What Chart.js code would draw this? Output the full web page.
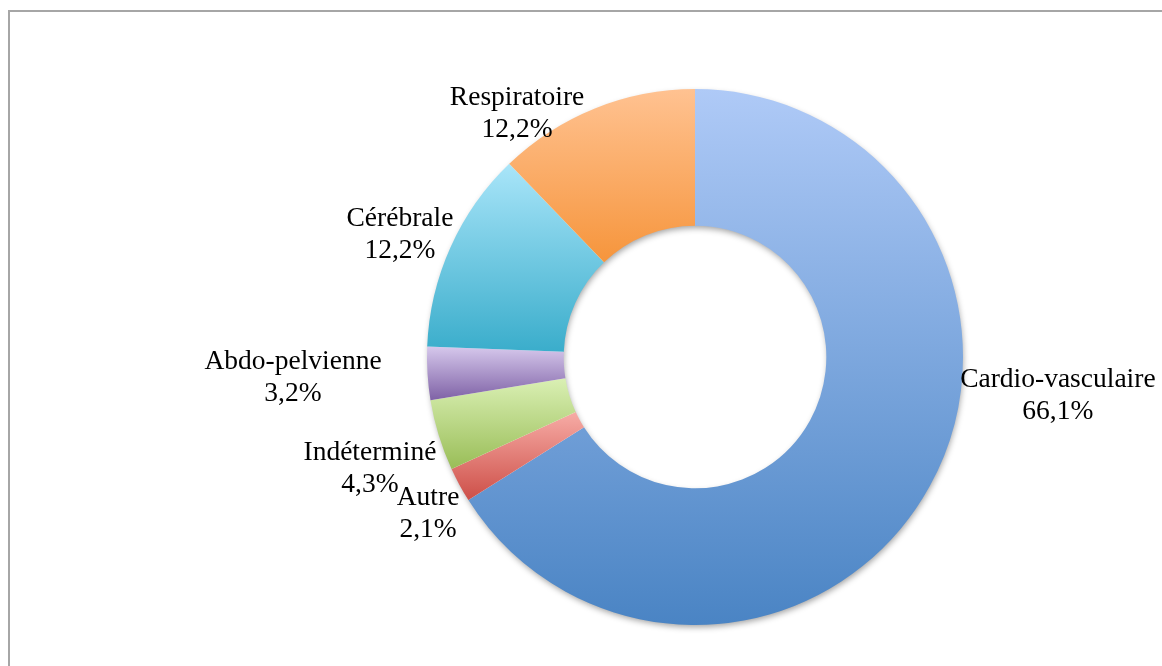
<!DOCTYPE html>
<html>
<head>
<meta charset="utf-8">
<script src="https://cdn.jsdelivr.net/npm/chart.js@4"></script>
<style>
  html, body { margin: 0; padding: 0; background: #fff; }
  #wrap { position: relative; width: 1162px; height: 666px; }
  #frame { position: absolute; left: 8px; top: 10px; right: 0; bottom: 0;
           border-top: 2px solid #a6a6a6; border-left: 2px solid #a6a6a6; pointer-events: none; }
  canvas { position: absolute; left: 0; top: 0; }
</style>
</head>
<body>
<div id="wrap">
  <canvas id="c" width="1162" height="666"></canvas>
  <div id="frame"></div>
</div>
<script>
// ---- Data ----
const categories = ["Cardio-vasculaire", "Autre", "Indéterminé", "Abdo-pelvienne", "Cérébrale", "Respiratoire"];
const percentages = [66.1, 2.1, 4.3, 3.2, 12.2, 12.2];

// ---- Styles ----
const gradTop    = ["#afcaf7", "#f7aca6", "#daf0b4", "#d6c8ec", "#a9e5f9", "#ffc291"];
const gradBottom = ["#4a84c4", "#cd4f48", "#99bd57", "#7f62a6", "#3aadcb", "#f6953c"];
// label anchor (first line baseline), in units of the outer radius, relative to centre
const labelOffsets = [[1.354, 0.112], [-0.996, 0.552], [-1.213, 0.384], [-1.5, 0.045], [-1.101, -0.489], [-0.664, -0.940]];
const labelFont = '27.5px "Liberation Serif", "Times New Roman", serif';
const lineGap = 32;

function arcBox(arc) {
  let minY = Infinity, maxY = -Infinity;
  const n = 60;
  for (let k = 0; k <= n; k++) {
    const a = arc.startAngle + (arc.endAngle - arc.startAngle) * k / n;
    for (const r of [arc.innerRadius, arc.outerRadius]) {
      const y = arc.y + r * Math.sin(a);
      if (y < minY) minY = y;
      if (y > maxY) maxY = y;
    }
  }
  return [minY, maxY];
}

const fxPlugin = {
  id: 'fx',
  beforeDatasetsDraw(chart) {
    const ctx = chart.ctx;
    const meta = chart.getDatasetMeta(0);
    if (!meta.data.length) return;
    const a0 = meta.data[0];
    // drop shadow of the ring
    ctx.save();
    ctx.shadowColor = 'rgba(0,0,0,0.38)';
    ctx.shadowBlur = 6;
    ctx.shadowOffsetX = 1;
    ctx.shadowOffsetY = 3;
    ctx.beginPath();
    ctx.arc(a0.x, a0.y, a0.outerRadius - 1, 0, Math.PI * 2);
    ctx.arc(a0.x, a0.y, a0.innerRadius + 1, Math.PI * 2, 0, true);
    ctx.fillStyle = '#ffffff';
    ctx.fill('evenodd');
    ctx.restore();
    // per-slice vertical gradients
    meta.data.forEach((arc, i) => {
      const [y0, y1] = arcBox(arc);
      const g = ctx.createLinearGradient(0, y0, 0, y1);
      g.addColorStop(0, gradTop[i]);
      g.addColorStop(1, gradBottom[i]);
      arc.options = Object.assign({}, arc.options, { backgroundColor: g });
    });
  },
  afterDatasetsDraw(chart) {
    const ctx = chart.ctx;
    const meta = chart.getDatasetMeta(0);
    ctx.save();
    ctx.font = labelFont;
    ctx.fillStyle = '#000000';
    ctx.textAlign = 'center';
    ctx.textBaseline = 'alphabetic';
    meta.data.forEach((arc, i) => {
      const R = arc.outerRadius;
      const x = arc.x + labelOffsets[i][0] * R;
      const y = arc.y + labelOffsets[i][1] * R;
      ctx.fillText(categories[i], x, y);
      ctx.fillText(percentages[i].toFixed(1).replace('.', ',') + '%', x, y + lineGap);
    });
    ctx.restore();
  }
};

new Chart(document.getElementById('c'), {
  type: 'doughnut',
  data: {
    labels: categories,
    datasets: [{
      data: percentages,
      backgroundColor: (c) => gradBottom[c.dataIndex],
      borderWidth: 0,
      hoverOffset: 0
    }]
  },
  options: {
    responsive: false,
    animation: false,
    cutout: '49%',
    layout: { padding: { top: 89, bottom: 41, left: 300, right: 72 } },
    plugins: { legend: { display: false }, tooltip: { enabled: false } }
  },
  plugins: [fxPlugin]
});
</script>
</body>
</html>
